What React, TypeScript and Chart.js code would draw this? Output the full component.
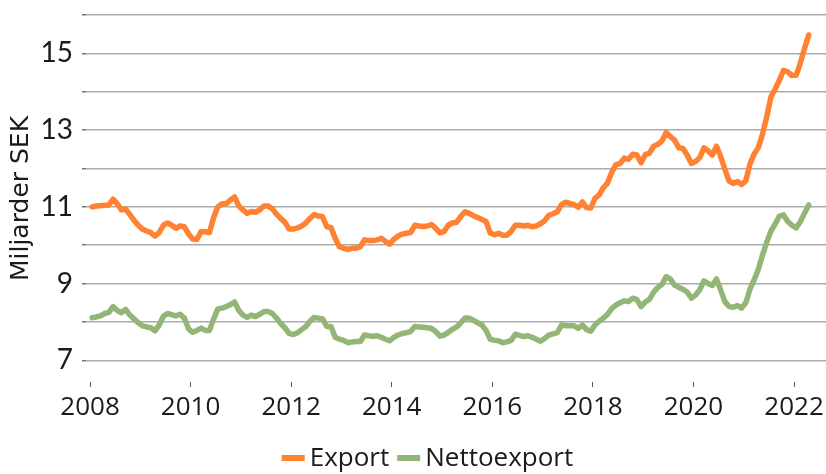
import React, { useEffect, useRef } from "react";
import { Chart, registerables } from "chart.js";

Chart.register(...registerables);

// Monthly data, Jan 2008 – Apr 2022 (billions SEK)
const START_YEAR = 2008;
const START_MONTH = 1;

const exportValues: number[] = [
  // 2008
  11.0, 11.02, 11.03, 11.04, 11.05, 11.2, 11.08, 10.92, 10.94, 10.8, 10.65, 10.52,
  // 2009
  10.42, 10.37, 10.33, 10.24, 10.33, 10.52, 10.58, 10.52, 10.44, 10.5, 10.48, 10.3,
  // 2010
  10.16, 10.15, 10.36, 10.35, 10.33, 10.72, 11.0, 11.08, 11.08, 11.18, 11.26, 11.02,
  // 2011
  10.92, 10.83, 10.88, 10.86, 10.92, 11.02, 11.02, 10.95, 10.81, 10.7, 10.6, 10.42,
  // 2012
  10.42, 10.45, 10.5, 10.58, 10.7, 10.8, 10.76, 10.74, 10.48, 10.46, 10.18, 9.96,
  // 2013
  9.92, 9.89, 9.92, 9.92, 9.96, 10.14, 10.12, 10.12, 10.14, 10.18, 10.1, 10.03,
  // 2014
  10.15, 10.24, 10.29, 10.31, 10.33, 10.52, 10.5, 10.49, 10.5, 10.54, 10.44, 10.32,
  // 2015
  10.36, 10.52, 10.58, 10.6, 10.75, 10.87, 10.83, 10.77, 10.72, 10.67, 10.62, 10.32,
  // 2016
  10.27, 10.31, 10.26, 10.26, 10.36, 10.52, 10.52, 10.5, 10.52, 10.48, 10.5, 10.56,
  // 2017
  10.64, 10.78, 10.82, 10.87, 11.06, 11.12, 11.09, 11.06, 10.99, 11.13, 10.98, 10.97,
  // 2018
  11.22, 11.31, 11.5, 11.62, 11.9, 12.1, 12.13, 12.27, 12.24, 12.37, 12.35, 12.15,
  // 2019
  12.36, 12.4, 12.58, 12.63, 12.72, 12.94, 12.83, 12.74, 12.54, 12.52, 12.35, 12.13,
  // 2020
  12.18, 12.28, 12.54, 12.46, 12.35, 12.58, 12.31, 11.98, 11.67, 11.61, 11.66, 11.58,
  // 2021
  11.68, 12.12, 12.38, 12.55, 12.9, 13.35, 13.87, 14.07, 14.3, 14.56, 14.52, 14.42,
  // 2022
  14.43, 14.74, 15.13, 15.48,
];

const nettoValues: number[] = [
  // 2008
  8.11, 8.13, 8.16, 8.22, 8.25, 8.4, 8.3, 8.24, 8.33, 8.18, 8.08, 7.98,
  // 2009
  7.9, 7.87, 7.85, 7.77, 7.92, 8.15, 8.22, 8.19, 8.16, 8.2, 8.1, 7.82,
  // 2010
  7.73, 7.78, 7.84, 7.78, 7.78, 8.08, 8.34, 8.36, 8.4, 8.45, 8.52, 8.3,
  // 2011
  8.18, 8.12, 8.18, 8.14, 8.2, 8.27, 8.27, 8.22, 8.1, 7.96, 7.85, 7.7,
  // 2012
  7.67, 7.72, 7.8, 7.88, 8.02, 8.12, 8.1, 8.08, 7.88, 7.88, 7.6, 7.55,
  // 2013
  7.52, 7.46, 7.48, 7.49, 7.49, 7.66, 7.64, 7.63, 7.64, 7.6, 7.55, 7.51,
  // 2014
  7.6, 7.66, 7.7, 7.72, 7.75, 7.88, 7.87, 7.86, 7.85, 7.83, 7.75, 7.63,
  // 2015
  7.66, 7.73, 7.81, 7.87, 7.98, 8.1, 8.1, 8.04, 7.98, 7.92, 7.78, 7.55,
  // 2016
  7.52, 7.51, 7.46, 7.48, 7.52, 7.68, 7.65, 7.62, 7.64, 7.6, 7.55, 7.5,
  // 2017
  7.57, 7.66, 7.69, 7.72, 7.92, 7.9, 7.9, 7.9, 7.83, 7.92, 7.8, 7.76,
  // 2018
  7.92, 8.02, 8.1, 8.2, 8.35, 8.44, 8.5, 8.55, 8.53, 8.62, 8.58, 8.4,
  // 2019
  8.52, 8.59, 8.78, 8.9, 8.98, 9.18, 9.12, 8.96, 8.9, 8.85, 8.78, 8.62,
  // 2020
  8.7, 8.84, 9.07, 9.0, 8.95, 9.12, 8.83, 8.53, 8.4, 8.38, 8.43, 8.36,
  // 2021
  8.5, 8.86, 9.1, 9.38, 9.75, 10.08, 10.37, 10.55, 10.76, 10.79, 10.62, 10.52,
  // 2022
  10.45, 10.61, 10.83, 11.05,
];

const xTickYears: number[] = [2008, 2010, 2012, 2014, 2016, 2018, 2020, 2022];
const yTickValues: number[] = [7, 8, 9, 10, 11, 12, 13, 14, 15, 16];
const yLabelValues: number[] = [7, 9, 11, 13, 15];

const seriesNames = ["Export", "Nettoexport"];
const seriesColors = ["#FF8132", "#93B677"];

const yTitle = "Miljarder SEK";

// month categories (YYYY-MM)
const months: string[] = exportValues.map((_, i) => {
  const m = START_MONTH - 1 + i;
  const y = START_YEAR + Math.floor(m / 12);
  const mm = (m % 12) + 1;
  return `${y}-${String(mm).padStart(2, "0")}`;
});

// decimal-year position of a month (centre of the month)
const monthPos = (label: string) => {
  const [y, m] = label.split("-").map(Number);
  return y + (m - 0.5) / 12;
};

const legendPlugin = {
  id: "customLegend",
  afterDraw(chart: any) {
    const ctx = chart.ctx;
    ctx.save();
    ctx.font = '26px "Open Sans", sans-serif';
    ctx.textBaseline = "middle";
    ctx.textAlign = "left";
    const boxW = 23;
    const boxH = 6;
    const gap = 5;
    const itemGap = 8;
    const widths = seriesNames.map((n) => ctx.measureText(n).width);
    const total =
      widths.reduce((a: number, w: number) => a + boxW + gap + w, 0) +
      itemGap * (seriesNames.length - 1);
    let x = chart.width * 0.5175 - total / 2;
    const y = chart.height - 16;
    seriesNames.forEach((name, i) => {
      ctx.fillStyle = seriesColors[i];
      ctx.fillRect(x, y - boxH / 2, boxW, boxH);
      x += boxW + gap;
      ctx.fillStyle = "#1a1a1a";
      ctx.fillText(name, x, y + 1);
      x += widths[i] + itemGap;
    });
    ctx.restore();
  },
};

export default function App() {
  const canvasRef = useRef<HTMLCanvasElement | null>(null);

  useEffect(() => {
    if (!canvasRef.current) return;
    const xs = months.map(monthPos);
    const chart = new Chart(canvasRef.current, {
      type: "line",
      data: {
        datasets: [
          {
            label: seriesNames[0],
            data: exportValues.map((v, i) => ({ x: xs[i], y: v })),
            borderColor: seriesColors[0],
            backgroundColor: seriesColors[0],
            borderWidth: 5.5,
            pointRadius: 0,
            tension: 0,
            borderJoinStyle: "round",
            borderCapStyle: "round",
          },
          {
            label: seriesNames[1],
            data: nettoValues.map((v, i) => ({ x: xs[i], y: v })),
            borderColor: seriesColors[1],
            backgroundColor: seriesColors[1],
            borderWidth: 5.5,
            pointRadius: 0,
            tension: 0,
            borderJoinStyle: "round",
            borderCapStyle: "round",
          },
        ],
      },
      options: {
        animation: false,
        responsive: false,
        maintainAspectRatio: false,
        layout: { padding: { top: 15, right: 0, bottom: 0, left: 0 } },
        plugins: {
          legend: { display: false },
          tooltip: { enabled: false },
        },
        scales: {
          x: {
            type: "linear",
            min: 2007.92,
            max: 2022.636,
            afterBuildTicks: (scale: any) => {
              scale.ticks = xTickYears.map((v) => ({ value: v }));
            },
            afterFit: (scale: any) => {
              scale.height = 92;
              scale.paddingLeft = 0;
              scale.paddingRight = 0;
            },
            ticks: {
              autoSkip: false,
              maxRotation: 0,
              padding: 5,
              color: "#1a1a1a",
              font: { family: '"Open Sans", sans-serif', size: 26 },
              callback: (v: any) => String(v),
            },
            grid: {
              display: true,
              drawOnChartArea: false,
              drawTicks: true,
              tickLength: 5,
              color: "#5a5a5a",
              lineWidth: 1,
            },
            border: { display: false },
          },
          y: {
            type: "linear",
            min: 6.435,
            max: 16,
            afterBuildTicks: (scale: any) => {
              scale.ticks = yTickValues.map((v) => ({ value: v }));
            },
            afterFit: (scale: any) => {
              scale.width = 86;
              scale.paddingTop = 0;
              scale.paddingBottom = 0;
            },
            ticks: {
              autoSkip: false,
              padding: 9,
              color: "#1a1a1a",
              font: { family: "Lato, sans-serif", size: 28 },
              callback: (v: any) => (yLabelValues.includes(v) ? String(v) : ""),
            },
            grid: {
              color: "#ababab",
              lineWidth: 1.5,
              tickLength: 4,
              tickColor: "#7a7a7a",
            },
            border: { display: false },
            title: {
              display: true,
              text: yTitle,
              color: "#1a1a1a",
              font: { family: '"DejaVu Sans", sans-serif', size: 25 },
              padding: { top: 6, bottom: 0 },
            },
          },
        },
      },
      plugins: [legendPlugin],
    });
    return () => chart.destroy();
  }, []);

  return (
    <div style={{ position: "fixed", left: 0, top: 0, width: 826, height: 474, background: "#fff" }}>
      <canvas ref={canvasRef} width={826} height={474} style={{ width: 826, height: 474 }} />
    </div>
  );
}
